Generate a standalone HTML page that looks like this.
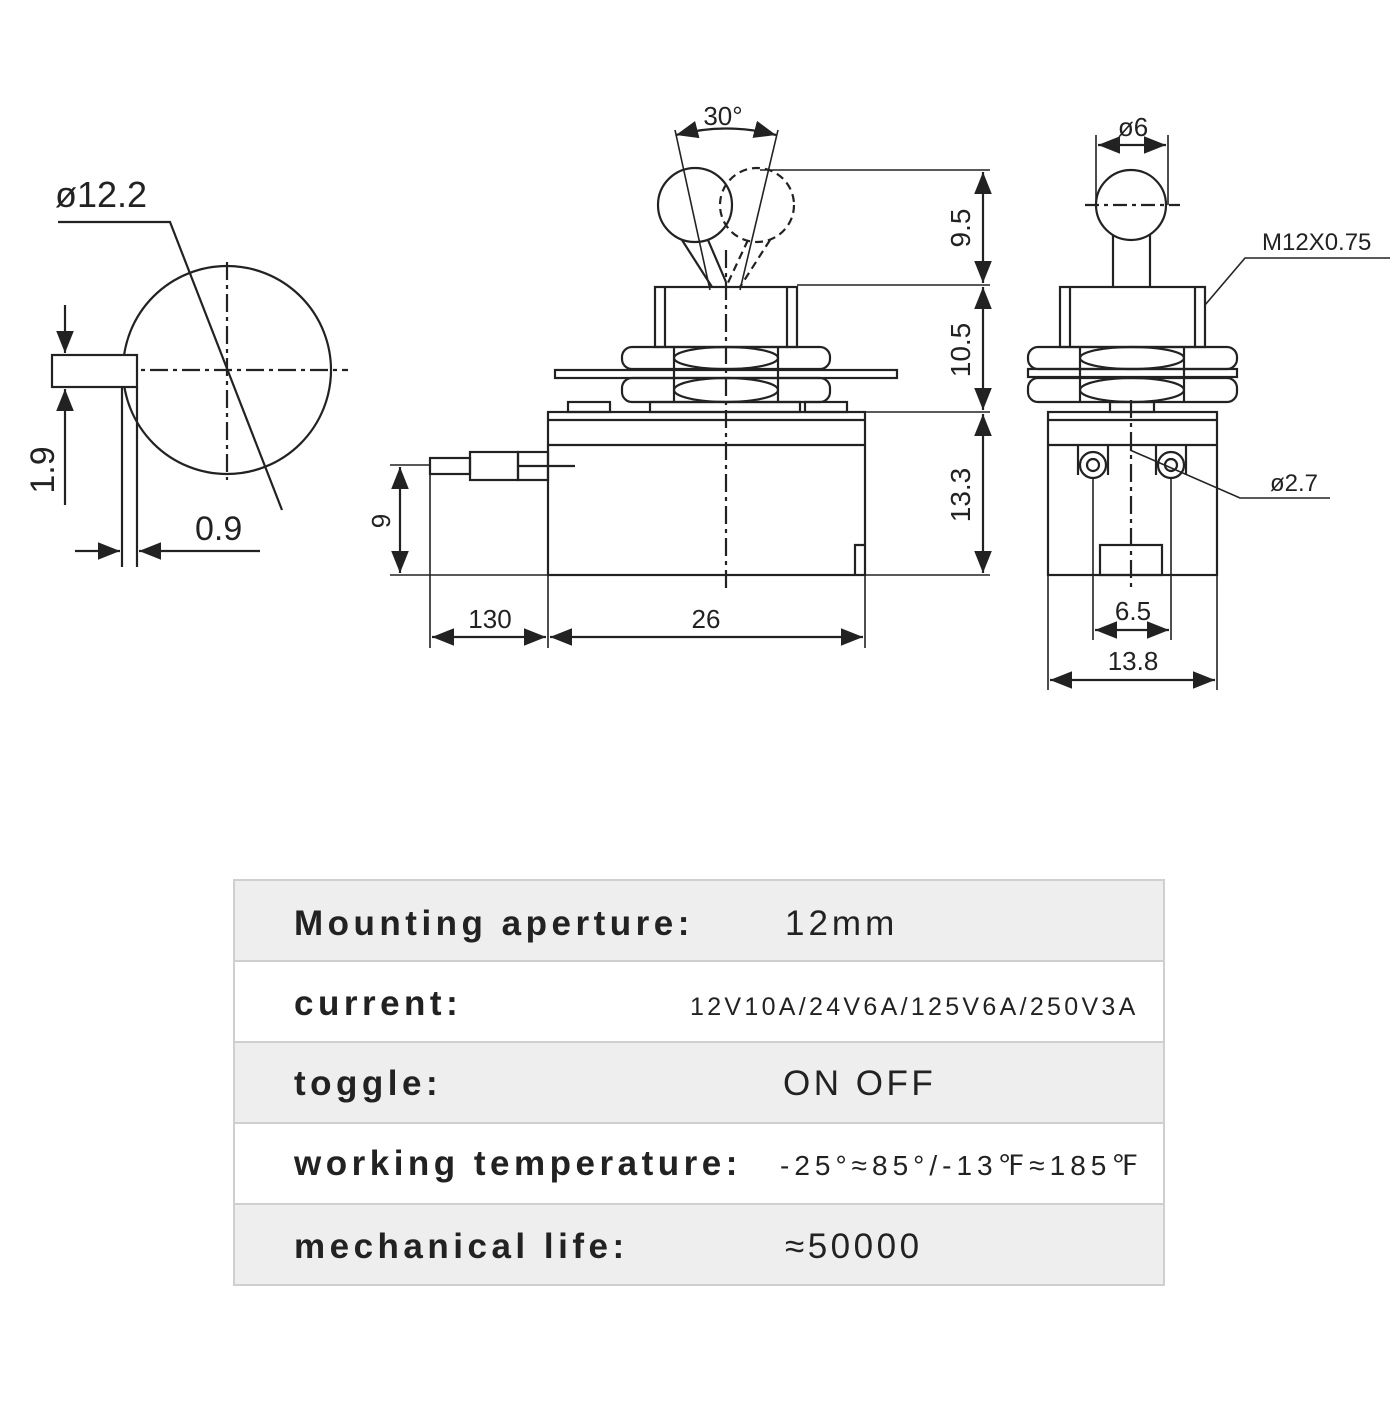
<!DOCTYPE html>
<html><head><style>
html,body{margin:0;padding:0;background:#fff;}
svg text{font-family:"Liberation Sans",sans-serif;}
</style></head><body>
<svg width="1400" height="1400" viewBox="0 0 1400 1400" xmlns="http://www.w3.org/2000/svg">
<defs>
<marker id="a" markerWidth="10" markerHeight="8" refX="10" refY="4" orient="auto-start-reverse"><path d="M0,0 L10,4 L0,8 z" fill="#222"/></marker>
</defs>
<g stroke="#222" stroke-width="2.2" fill="none">
<circle cx="227" cy="370" r="104"/>
<line x1="227" y1="262" x2="227" y2="480" stroke-dasharray="18,5,4,5"/>
<line x1="118" y1="370" x2="348" y2="370" stroke-dasharray="18,5,4,5"/>
<polyline points="58,222 170,222 282,510"/>
<rect x="52" y="355" width="85" height="32" fill="#fff"/>
<line x1="122" y1="387" x2="122" y2="567"/>
<line x1="137" y1="387" x2="137" y2="567"/>
<line x1="65" y1="305" x2="65" y2="353" marker-end="url(#a)"/>
<line x1="65" y1="505" x2="65" y2="389" marker-end="url(#a)"/>
<line x1="75" y1="551" x2="120" y2="551" marker-end="url(#a)"/>
<line x1="260" y1="551" x2="139" y2="551" marker-end="url(#a)"/>

<rect x="548" y="412" width="317" height="163"/>
<line x1="548" y1="420" x2="865" y2="420"/>
<line x1="548" y1="445" x2="865" y2="445"/>
<polyline points="855,575 855,545 865,545"/>
<rect x="568" y="402" width="42" height="10"/>
<rect x="650" y="402" width="150" height="10"/>
<rect x="805" y="402" width="42" height="10"/>
<rect x="430" y="458" width="40" height="16"/>
<rect x="470" y="452" width="48" height="28"/>
<rect x="518" y="452" width="30" height="28"/>
<line x1="518" y1="466" x2="575" y2="466"/>
<rect x="555" y="370" width="342" height="8"/>
<rect x="622" y="347" width="208" height="22" rx="10"/>
<ellipse cx="726" cy="358" rx="52" ry="11"/>
<rect x="622" y="378" width="208" height="24" rx="10"/>
<ellipse cx="726" cy="390" rx="52" ry="12"/>
<line x1="674" y1="347" x2="674" y2="402"/><line x1="778" y1="347" x2="778" y2="402"/>
<rect x="655" y="287" width="142" height="60"/>
<line x1="665" y1="287" x2="665" y2="347"/><line x1="787" y1="287" x2="787" y2="347"/>
<circle cx="695" cy="205" r="37"/>
<circle cx="757" cy="205" r="37" stroke-dasharray="8,5"/>
<polyline points="682,240 712,287"/><polyline points="708,240 726,282"/>
<polyline points="748,240 726,287" stroke-dasharray="8,5"/><polyline points="770,240 740,287" stroke-dasharray="8,5"/>
<line x1="726" y1="250" x2="726" y2="590" stroke-dasharray="18,5,4,5"/>
<line x1="675" y1="130" x2="710" y2="290" stroke-width="1.6"/>
<line x1="778" y1="130" x2="740" y2="290" stroke-width="1.6"/>
<path d="M676,135 Q727,122 776,135" marker-start="url(#a)" marker-end="url(#a)"/>
<line x1="760" y1="170" x2="990" y2="170" stroke-width="1.6"/>
<line x1="797" y1="285" x2="990" y2="285" stroke-width="1.6"/>
<line x1="865" y1="412" x2="990" y2="412" stroke-width="1.6"/>
<line x1="865" y1="575" x2="990" y2="575" stroke-width="1.6"/>
<line x1="983" y1="172" x2="983" y2="283" marker-start="url(#a)" marker-end="url(#a)"/>
<line x1="983" y1="287" x2="983" y2="410" marker-start="url(#a)" marker-end="url(#a)"/>
<line x1="983" y1="414" x2="983" y2="573" marker-start="url(#a)" marker-end="url(#a)"/>
<line x1="390" y1="465" x2="430" y2="465" stroke-width="1.6"/>
<line x1="390" y1="575" x2="548" y2="575" stroke-width="1.6"/>
<line x1="400" y1="467" x2="400" y2="573" marker-start="url(#a)" marker-end="url(#a)"/>
<line x1="430" y1="475" x2="430" y2="648" stroke-width="1.6"/>
<line x1="548" y1="575" x2="548" y2="648" stroke-width="1.6"/>
<line x1="865" y1="575" x2="865" y2="648" stroke-width="1.6"/>
<line x1="432" y1="637" x2="546" y2="637" marker-start="url(#a)" marker-end="url(#a)"/>
<line x1="550" y1="637" x2="863" y2="637" marker-start="url(#a)" marker-end="url(#a)"/>

<circle cx="1131" cy="205" r="35"/>
<line x1="1085" y1="205" x2="1180" y2="205" stroke-dasharray="14,5,4,5"/>
<line x1="1113" y1="235" x2="1113" y2="287"/><line x1="1150" y1="235" x2="1150" y2="287"/>
<line x1="1096" y1="135" x2="1096" y2="205" stroke-width="1.6"/>
<line x1="1168" y1="135" x2="1168" y2="205" stroke-width="1.6"/>
<line x1="1098" y1="145" x2="1166" y2="145" marker-start="url(#a)" marker-end="url(#a)"/>
<rect x="1060" y="287" width="145" height="60"/>
<line x1="1070" y1="287" x2="1070" y2="347"/><line x1="1195" y1="287" x2="1195" y2="347"/>
<rect x="1028" y="347" width="209" height="22" rx="10"/>
<ellipse cx="1132" cy="358" rx="52" ry="11"/>
<rect x="1028" y="369" width="209" height="8"/>
<rect x="1028" y="378" width="209" height="24" rx="10"/>
<ellipse cx="1132" cy="390" rx="52" ry="12"/>
<line x1="1080" y1="347" x2="1080" y2="402"/><line x1="1184" y1="347" x2="1184" y2="402"/>
<rect x="1110" y="402" width="44" height="10"/>
<rect x="1048" y="412" width="169" height="163"/>
<line x1="1048" y1="420" x2="1217" y2="420"/>
<line x1="1048" y1="445" x2="1217" y2="445"/>
<line x1="1078" y1="445" x2="1078" y2="475"/><line x1="1108" y1="445" x2="1108" y2="475"/>
<line x1="1156" y1="445" x2="1156" y2="475"/><line x1="1186" y1="445" x2="1186" y2="475"/>
<circle cx="1093" cy="465" r="13"/><circle cx="1093" cy="465" r="6"/>
<circle cx="1171" cy="465" r="13"/><circle cx="1171" cy="465" r="6"/>
<rect x="1100" y="545" width="62" height="30"/>
<line x1="1131" y1="400" x2="1131" y2="590" stroke-dasharray="18,5,4,5"/>
<polyline points="1205,305 1245,258 1390,258" stroke-width="1.6"/>
<polyline points="1130,450 1240,498 1330,498" stroke-width="1.6"/>
<line x1="1093" y1="478" x2="1093" y2="640" stroke-width="1.6"/>
<line x1="1171" y1="478" x2="1171" y2="640" stroke-width="1.6"/>
<line x1="1095" y1="630" x2="1169" y2="630" marker-start="url(#a)" marker-end="url(#a)"/>
<line x1="1048" y1="575" x2="1048" y2="690" stroke-width="1.6"/>
<line x1="1217" y1="575" x2="1217" y2="690" stroke-width="1.6"/>
<line x1="1050" y1="680" x2="1215" y2="680" marker-start="url(#a)" marker-end="url(#a)"/>
</g>
<g fill="#222" font-size="30">
<text x="55" y="207" font-size="36">ø12.2</text>
<text x="195" y="540" font-size="34">0.9</text>
<text transform="translate(54,470) rotate(-90)" text-anchor="middle" font-size="34">1.9</text>
<text x="723" y="125" text-anchor="middle" font-size="26">30°</text>
<text transform="translate(970,228) rotate(-90)" text-anchor="middle" font-size="28">9.5</text>
<text transform="translate(970,350) rotate(-90)" text-anchor="middle" font-size="28">10.5</text>
<text transform="translate(970,495) rotate(-90)" text-anchor="middle" font-size="28">13.3</text>
<text transform="translate(390,521) rotate(-90)" text-anchor="middle" font-size="26">9</text>
<text x="490" y="628" text-anchor="middle" font-size="26">130</text>
<text x="706" y="628" text-anchor="middle" font-size="26">26</text>
<text x="1133" y="136" text-anchor="middle" font-size="26">ø6</text>
<text x="1262" y="250" font-size="24">M12X0.75</text>
<text x="1270" y="491" font-size="24">ø2.7</text>
<text x="1133" y="620" text-anchor="middle" font-size="26">6.5</text>
<text x="1133" y="670" text-anchor="middle" font-size="26">13.8</text>
</g>
<g stroke="#cfcfcf" stroke-width="2">
<rect x="234" y="880" width="930" height="81" fill="#eeeeee"/>
<rect x="234" y="961" width="930" height="81" fill="#ffffff"/>
<rect x="234" y="1042" width="930" height="81" fill="#eeeeee"/>
<rect x="234" y="1123" width="930" height="81" fill="#ffffff"/>
<rect x="234" y="1204" width="930" height="81" fill="#eeeeee"/>
</g>
<g fill="#222" font-size="35" letter-spacing="4.5">
<text x="294" y="935" font-weight="bold">Mounting aperture:</text>
<text x="294" y="1015" font-weight="bold">current:</text>
<text x="294" y="1095" font-weight="bold">toggle:</text>
<text x="294" y="1175" font-weight="bold">working temperature:</text>
<text x="294" y="1258" font-weight="bold">mechanical life:</text>
<text x="785" y="935" letter-spacing="4">12mm</text>
<text x="690" y="1015" font-size="25" letter-spacing="3.3">12V10A/24V6A/125V6A/250V3A</text>
<text x="783" y="1095" letter-spacing="3.5">ON OFF</text>
<text x="780" y="1175" font-size="28" letter-spacing="5">-25°≈85°/-13℉≈185℉</text>
<text x="785" y="1258" letter-spacing="3.5">≈50000</text>
</g>
</svg>
</body></html>
